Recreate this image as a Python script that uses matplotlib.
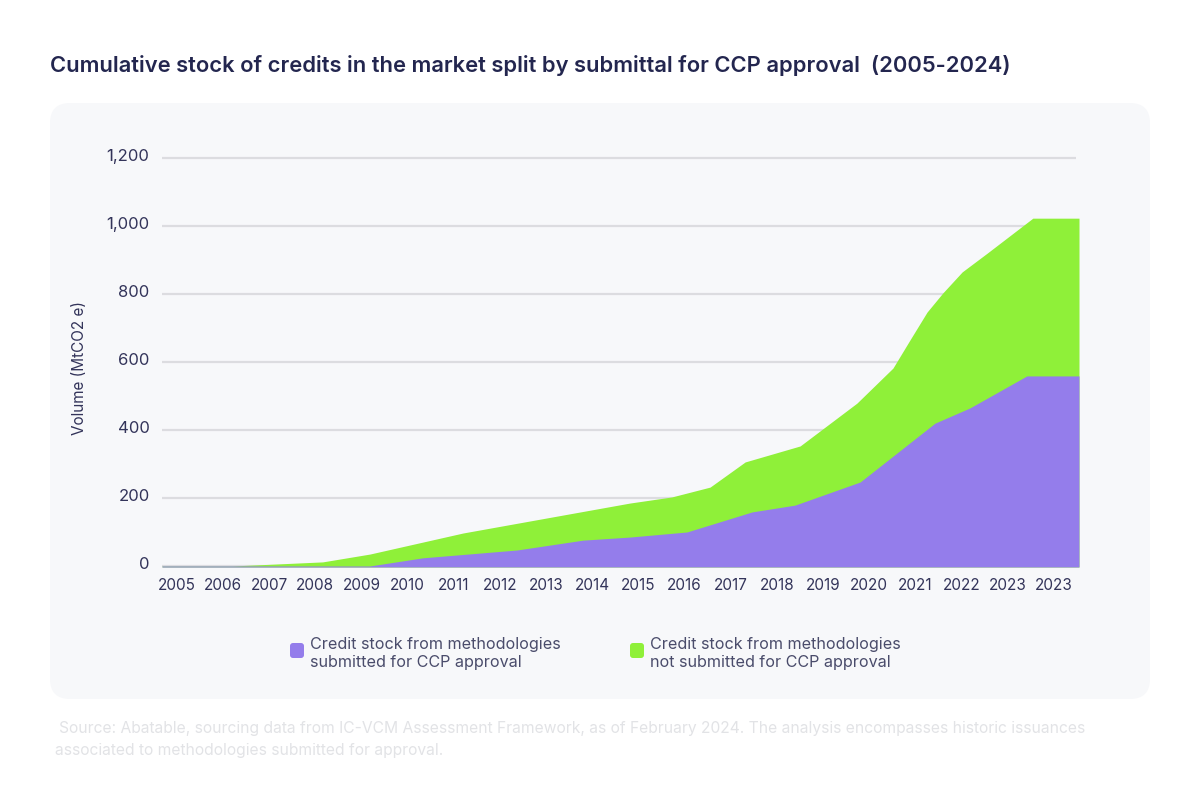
import matplotlib
matplotlib.use('Agg')
import matplotlib.pyplot as plt
from matplotlib.patches import FancyBboxPatch
from matplotlib.transforms import ScaledTranslation

# Tick labels (2023 really does appear twice in the source chart)
years = ['2005', '2006', '2007', '2008', '2009', '2010', '2011', '2012', '2013', '2014',
         '2015', '2016', '2017', '2018', '2019', '2020', '2021', '2022', '2023', '2023']
y_ticks = [0, 200, 400, 600, 800, 1000, 1200]

# Top of the whole stack (x is in tick positions)
total_x = [-0.32, 1.21, 3.16, 4.18, 6.20, 9.81, 10.72, 11.55, 12.31, 13.50, 14.73, 15.51, 15.88, 16.25, 16.59, 17.01, 17.55, 18.54, 19.54]
total_y = [0, 0, 12, 35, 97, 185, 203, 232, 306, 353, 479, 582, 665, 747, 803, 865, 920, 1023, 1023]

# Top of the submitted share
submitted_x = [-0.32, 4.18, 5.33, 7.37, 8.80, 9.81, 11.05, 12.46, 13.39, 14.80, 16.42, 17.18, 18.41, 19.54]
submitted_y = [0, 0, 24, 47, 76, 85, 100, 159, 179, 247, 420, 465, 559, 559]

ink = '#33345A'
purple = '#947DEB'
green = '#8FF039'
panel = '#F7F8FA'

plt.rcParams['font.family'] = ['Inter', 'DejaVu Sans']

fig = plt.figure(figsize=(12, 8), dpi=100, facecolor='white')

# Rounded panel behind the chart
bg = fig.add_axes([0, 0, 1, 1])
bg.set_xlim(0, 1200)
bg.set_ylim(800, 0)
bg.axis('off')
bg.add_patch(FancyBboxPatch((50, 103), 1100, 596, boxstyle='round,pad=0,rounding_size=20',
                            facecolor=panel, edgecolor='none'))

ax = fig.add_axes([162 / 1200, (800 - 567) / 800, (1079 - 162) / 1200, (567 - 158) / 800])
ax.patch.set_alpha(0)
ax.set_xlim(-0.32, 19.54)
ax.set_ylim(-3, 1200)

# Grid stops a little short of the area's right edge
ax.hlines(y_ticks, -0.32, 19.48, color='#DCDCE0', linewidth=1.6, zorder=1, clip_on=False)
ax.fill_between(total_x, total_y, -3, color=green, linewidth=0, zorder=2)
ax.fill_between(submitted_x, submitted_y, -3, color=purple, linewidth=0, zorder=3)

ax.set_xticks(range(len(years)))
ax.set_xticklabels(years, fontsize=11, color=ink)
ax.set_yticks(y_ticks)
ax.set_yticklabels([f'{v:,}' for v in y_ticks], fontsize=12, color=ink)
ax.tick_params(axis='both', length=0)
ax.tick_params(axis='x', pad=8)
ax.tick_params(axis='y', pad=9)
for spine in ax.spines.values():
    spine.set_visible(False)

# y labels sit slightly above their grid lines
nudge = ScaledTranslation(0, 2.5 / 100, fig.dpi_scale_trans)
for lab in ax.get_yticklabels():
    lab.set_transform(lab.get_transform() + nudge)

# Title, axis label, legend and source are placed in pixel coordinates
bg.text(50, 65.5, 'Cumulative stock of credits in the market split by submittal for CCP approval  (2005-2024)',
        fontsize=15.8, fontweight='semibold', color='#23264F', va='center')
bg.text(80, 368, 'Volume (MtCO2 e)', fontsize=11, color=ink, rotation=90, ha='center', va='center')

legend_items = [(290, purple, 'Credit stock from methodologies\nsubmitted for CCP approval'),
                (630, green, 'Credit stock from methodologies\nnot submitted for CCP approval')]
for lx, col, label in legend_items:
    bg.add_patch(FancyBboxPatch((lx + 3, 646), 8, 9, boxstyle='round,pad=3,rounding_size=3',
                                facecolor=col, edgecolor='none'))
    bg.text(lx + 20, 653.5, label, fontsize=11.6, color='#4A4C6B', va='center', linespacing=1.3)

bg.text(59, 729, 'Source: Abatable, sourcing data from IC-VCM Assessment Framework, as of February 2024. The analysis encompasses historic issuances',
        fontsize=11.25, color='#E2E3E6', va='center')
bg.text(55, 750, 'associated to methodologies submitted for approval.',
        fontsize=11.25, color='#E2E3E6', va='center')

fig.savefig('out.png', dpi=100)
